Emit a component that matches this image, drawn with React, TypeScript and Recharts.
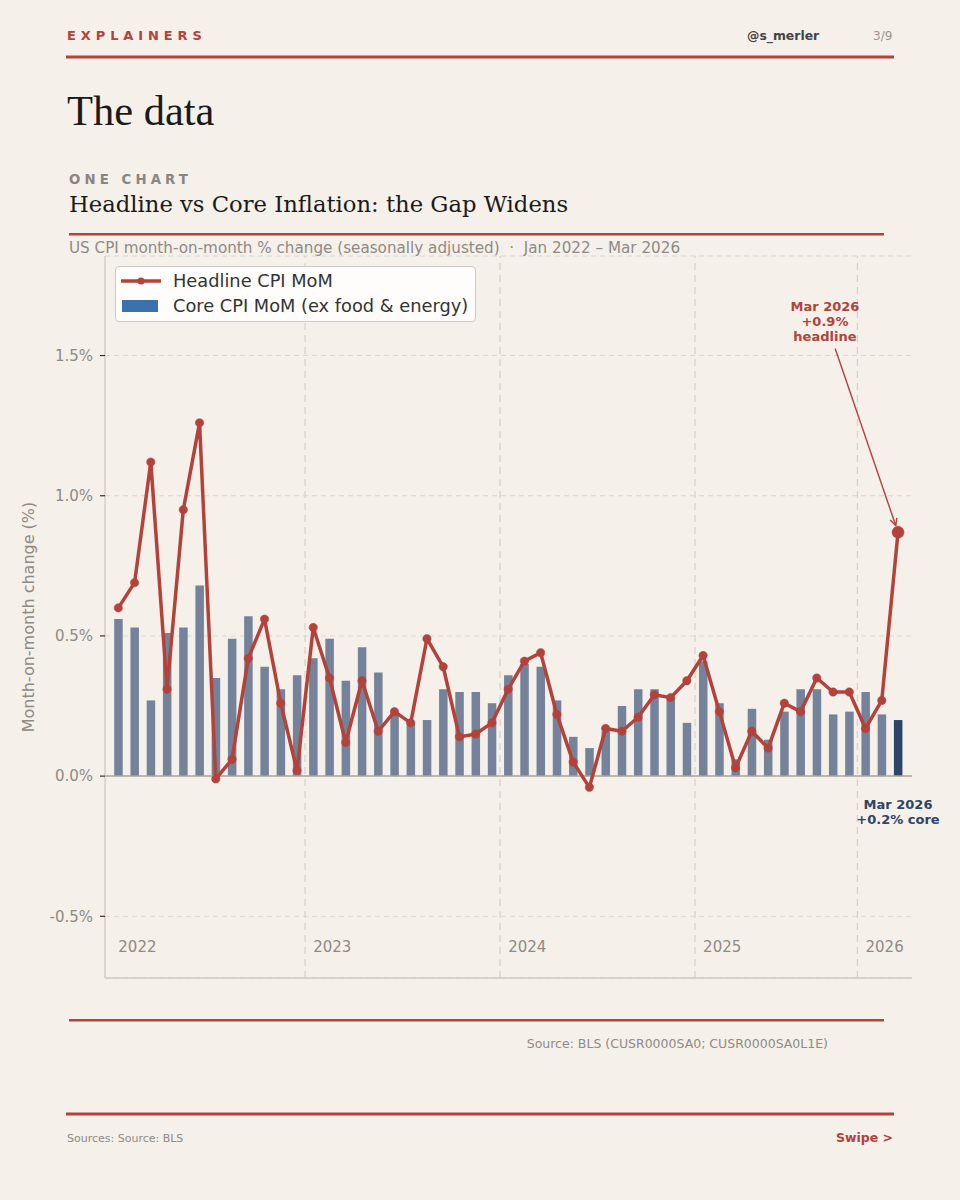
import React from 'react';
import {
  ComposedChart,
  Bar,
  Line,
  XAxis,
  YAxis,
  CartesianGrid,
  ReferenceLine,
  ReferenceDot,
  Cell,
} from 'recharts';

// ---- data -------------------------------------------------------------
const months = [
  '2022-01', '2022-02', '2022-03', '2022-04', '2022-05', '2022-06', '2022-07', '2022-08', '2022-09', '2022-10', '2022-11', '2022-12',
  '2023-01', '2023-02', '2023-03', '2023-04', '2023-05', '2023-06', '2023-07', '2023-08', '2023-09', '2023-10', '2023-11', '2023-12',
  '2024-01', '2024-02', '2024-03', '2024-04', '2024-05', '2024-06', '2024-07', '2024-08', '2024-09', '2024-10', '2024-11', '2024-12',
  '2025-01', '2025-02', '2025-03', '2025-04', '2025-05', '2025-06', '2025-07', '2025-08', '2025-09', '2025-12',
  '2026-01', '2026-02', '2026-03',
];

const headline = [
  0.60, 0.69, 1.12, 0.31, 0.95, 1.26, -0.01, 0.06, 0.42, 0.56, 0.26, 0.02,
  0.53, 0.35, 0.12, 0.34, 0.16, 0.23, 0.19, 0.49, 0.39, 0.14, 0.15, 0.19,
  0.31, 0.41, 0.44, 0.22, 0.05, -0.04, 0.17, 0.16, 0.21, 0.29, 0.28, 0.34,
  0.43, 0.23, 0.03, 0.16, 0.10, 0.26, 0.23, 0.35, 0.30, 0.30,
  0.17, 0.27, 0.87,
];

const core = [
  0.56, 0.53, 0.27, 0.51, 0.53, 0.68, 0.35, 0.49, 0.57, 0.39, 0.31, 0.36,
  0.42, 0.49, 0.34, 0.46, 0.37, 0.22, 0.19, 0.20, 0.31, 0.30, 0.30, 0.26,
  0.36, 0.40, 0.39, 0.27, 0.14, 0.10, 0.16, 0.25, 0.31, 0.31, 0.28, 0.19,
  0.41, 0.26, 0.06, 0.24, 0.13, 0.23, 0.31, 0.31, 0.22, 0.23,
  0.30, 0.22, 0.20,
];

const yearTickIndex = [0, 12, 24, 36, 46];
const yearLabels = ['2022', '2023', '2024', '2025', '2026'];
const yearBoundaries = [11.5, 23.5, 35.5, 45.5];
const yTicks = [-0.5, 0, 0.5, 1.0, 1.5];
const yDomain = [-0.72, 1.855];
const xDomain = [-0.82, 48.86];

// annotation anchors (data coordinates)
const headlineNote = { x: 43.5, y: 1.676, lines: ['Mar 2026', '+0.9%', 'headline'] };
const headlineArrowFrom = { x: 44.13, y: 1.525 };
const coreNote = { x: 48, y: -0.1, lines: ['Mar 2026', '+0.2% core'] };

const data = months.map((m, i) => ({ i, month: m, headline: headline[i], core: core[i] }));
const lastIndex = data.length - 1;

// ---- styles -----------------------------------------------------------
const BG = '#f5f0ea';
const RED = '#b3423a';
const BAR = '#74829a';
const BAR_LAST = '#2e4468';
const NAVY = '#2e4468';
const GRAY_TEXT = '#8f8a84';
const SANS = "'DejaVu Sans', sans-serif";
const SERIF = "'DejaVu Serif', serif";
const DISPLAY_SERIF = "'Liberation Serif', serif";

const YearTick = (props: any) => {
  const { x, y, payload } = props;
  const idx = yearTickIndex.indexOf(payload.value);
  return (
    <text x={x} y={y - 26} textAnchor="start" fill={GRAY_TEXT} fontSize={15} fontFamily={SANS}>
      {yearLabels[idx]}
    </text>
  );
};

const HeadlineDot = (props: any) => {
  const { cx, cy, index } = props;
  if (cx == null || cy == null) return <g key={`d${index}`} />;
  const r = index === lastIndex ? 6 : 4.2;
  return <circle key={`d${index}`} cx={cx} cy={cy} r={r} fill={RED} stroke={RED} strokeWidth={0.5} />;
};

const ArrowShape = (props: any) => {
  const { x1, y1, x2, y2 } = props;
  if ([x1, y1, x2, y2].some((v) => v == null || isNaN(v))) return null;
  const dx = x2 - x1;
  const dy = y2 - y1;
  const len = Math.sqrt(dx * dx + dy * dy);
  const ux = dx / len;
  const uy = dy / len;
  const ex = x2 - ux * 7;
  const ey = y2 - uy * 7;
  const hl = 7;
  const hw = 3.5;
  const bx = ex - ux * hl;
  const by = ey - uy * hl;
  const px = -uy;
  const py = ux;
  return (
    <g>
      <line x1={x1} y1={y1} x2={ex} y2={ey} stroke={RED} strokeWidth={1.4} />
      <polyline
        points={`${bx + px * hw},${by + py * hw} ${ex},${ey} ${bx - px * hw},${by - py * hw}`}
        fill="none"
        stroke={RED}
        strokeWidth={1.4}
      />
    </g>
  );
};

const makeNote = (lines: string[], color: string) => (props: any) => {
  const { cx, cy } = props;
  if (cx == null || cy == null) return null;
  return (
    <g>
      {lines.map((t, k) => (
        <text
          key={k}
          x={cx}
          y={cy + 4.7 + k * 15.3}
          textAnchor="middle"
          fill={color}
          fontSize={13}
          fontWeight="bold"
          fontFamily={SANS}
        >
          {t}
        </text>
      ))}
    </g>
  );
};

const YLabel = (props: any) => {
  const vb = props.viewBox || {};
  const cy = (vb.y ?? 256) + (vb.height ?? 722) / 2;
  return (
    <text
      transform={`translate(28, ${cy}) rotate(-90)`}
      textAnchor="middle"
      dominantBaseline="central"
      fill={GRAY_TEXT}
      fontSize={16}
      fontFamily={SANS}
    >
      Month-on-month change (%)
    </text>
  );
};

const PageFrame = () => (
  <svg width={960} height={1200} style={{ position: 'absolute', left: 0, top: 0 }}>
    <rect x={0} y={0} width={960} height={1200} fill={BG} />
    <text x={67} y={40} fill={RED} fontSize={13} fontWeight="bold" fontFamily={SANS} letterSpacing={4.9}>
      EXPLAINERS
    </text>
    <text x={747} y={40} fill="#444" fontSize={12.4} fontWeight="bold" fontFamily={SANS}>
      @s_merler
    </text>
    <text x={873} y={40} fill="#9a958f" fontSize={12} fontFamily={SANS}>
      3/9
    </text>
    <rect x={66} y={55.5} width={828} height={3} fill={RED} />

    <text x={67} y={125} fill="#1c1a18" fontSize={42.5} fontFamily={DISPLAY_SERIF}>
      The data
    </text>

    <text x={69} y={184} fill="#8a8580" fontSize={13.3} fontWeight="bold" fontFamily={SANS} letterSpacing={4.1}>
      ONE CHART
    </text>
    <text x={69} y={211.7} fill="#1c1a18" fontSize={22.7} fontFamily={SERIF}>
      Headline vs Core Inflation: the Gap Widens
    </text>
    <rect x={69} y={233} width={815} height={2.5} fill={RED} />
    <text x={69} y={252.5} fill={GRAY_TEXT} fontSize={15.2} fontFamily={SANS} style={{ whiteSpace: 'pre' }}>
      {'US CPI month-on-month % change (seasonally adjusted)  \u00b7  Jan 2022 \u2013 Mar 2026'}
    </text>

    <rect x={69} y={1019} width={815} height={2.5} fill={RED} />
    <text x={828} y={1048} textAnchor="end" fill={GRAY_TEXT} fontSize={12.5} fontFamily={SANS}>
      Source: BLS (CUSR0000SA0; CUSR0000SA0L1E)
    </text>
    <rect x={66} y={1112.5} width={828} height={3} fill={RED} />
    <text x={67} y={1141.5} fill={GRAY_TEXT} fontSize={11} fontFamily={SANS}>
      Sources: Source: BLS
    </text>
    <text x={893} y={1142} textAnchor="end" fill={RED} fontSize={12.5} fontWeight="bold" fontFamily={SANS}>
      Swipe &gt;
    </text>
  </svg>
);

const LegendBox = () => (
  <div
    style={{
      position: 'absolute',
      left: 115,
      top: 266,
      width: 361,
      height: 56,
      boxSizing: 'border-box',
      background: 'rgba(255,255,255,0.85)',
      border: '1px solid #cfcac3',
      borderRadius: 4,
      fontFamily: SANS,
      fontSize: 17.8,
      color: '#333',
    }}
  >
    <svg width={44} height={16} style={{ position: 'absolute', left: 4, top: 6 }}>
      <line x1={1} y1={8} x2={41} y2={8} stroke={RED} strokeWidth={3.5} />
      <circle cx={21} cy={8} r={3.6} fill={RED} />
    </svg>
    <div style={{ position: 'absolute', left: 57, top: 3, lineHeight: '22px', whiteSpace: 'nowrap' }}>
      Headline CPI MoM
    </div>
    <div style={{ position: 'absolute', left: 6, top: 33, width: 36, height: 12, background: '#3a72b0' }} />
    <div style={{ position: 'absolute', left: 57, top: 28, lineHeight: '22px', whiteSpace: 'nowrap' }}>
      Core CPI MoM (ex food &amp; energy)
    </div>
  </div>
);

export default function App() {
  return (
    <div style={{ position: 'absolute', left: 0, top: 0, width: 960, height: 1200, background: BG, overflow: 'hidden' }}>
      <PageFrame />
      <div style={{ position: 'absolute', left: 0, top: 0 }}>
        <ComposedChart
          width={960}
          height={1000}
          data={data}
          margin={{ top: 256, right: 48, bottom: 0, left: 45 }}
        >
          <CartesianGrid vertical={false} stroke="#dcd7d1" strokeDasharray="5 4" strokeWidth={1} />
          {yearBoundaries.map((b) => (
            <ReferenceLine key={b} x={b} stroke="#d8d3cd" strokeDasharray="7 5" strokeWidth={1.3} />
          ))}
          <XAxis
            type="number"
            dataKey="i"
            domain={xDomain}
            allowDataOverflow
            ticks={yearTickIndex}
            interval={0}
            tick={<YearTick />}
            tickLine={false}
            tickSize={0}
            tickMargin={0}
            height={22}
            axisLine={{ stroke: '#cfcac4', strokeWidth: 1.3 }}
          />
          <YAxis
            type="number"
            domain={yDomain}
            allowDataOverflow
            ticks={yTicks}
            interval={0}
            width={60}
            tickFormatter={(v: number) => `${v.toFixed(1)}%`}
            tick={{ fill: GRAY_TEXT, fontSize: 15, fontFamily: SANS }}
            tickLine={{ stroke: '#333', strokeWidth: 1.2 }}
            tickSize={5}
            tickMargin={7}
            axisLine={{ stroke: '#cfcac4', strokeWidth: 1.3 }}
            label={<YLabel />}
          />
          <ReferenceLine y={0} stroke="#aaa59f" strokeWidth={1.5} />
          <Bar dataKey="core" barSize={8.5} isAnimationActive={false}>
            {data.map((d, k) => (
              <Cell key={k} fill={k === lastIndex ? BAR_LAST : BAR} />
            ))}
          </Bar>
          <Line
            type="linear"
            dataKey="headline"
            stroke={RED}
            strokeWidth={3.5}
            strokeLinejoin="round"
            dot={<HeadlineDot />}
            activeDot={false}
            isAnimationActive={false}
          />
          <ReferenceLine
            segment={[headlineArrowFrom, { x: lastIndex, y: headline[lastIndex] }]}
            shape={<ArrowShape />}
            ifOverflow="visible"
          />
          <ReferenceDot
            x={headlineNote.x}
            y={headlineNote.y}
            r={0}
            ifOverflow="visible"
            shape={makeNote(headlineNote.lines, RED)}
          />
          <ReferenceDot
            x={coreNote.x}
            y={coreNote.y}
            r={0}
            ifOverflow="visible"
            shape={makeNote(coreNote.lines, NAVY)}
          />
        </ComposedChart>
      </div>
      <LegendBox />
    </div>
  );
}
